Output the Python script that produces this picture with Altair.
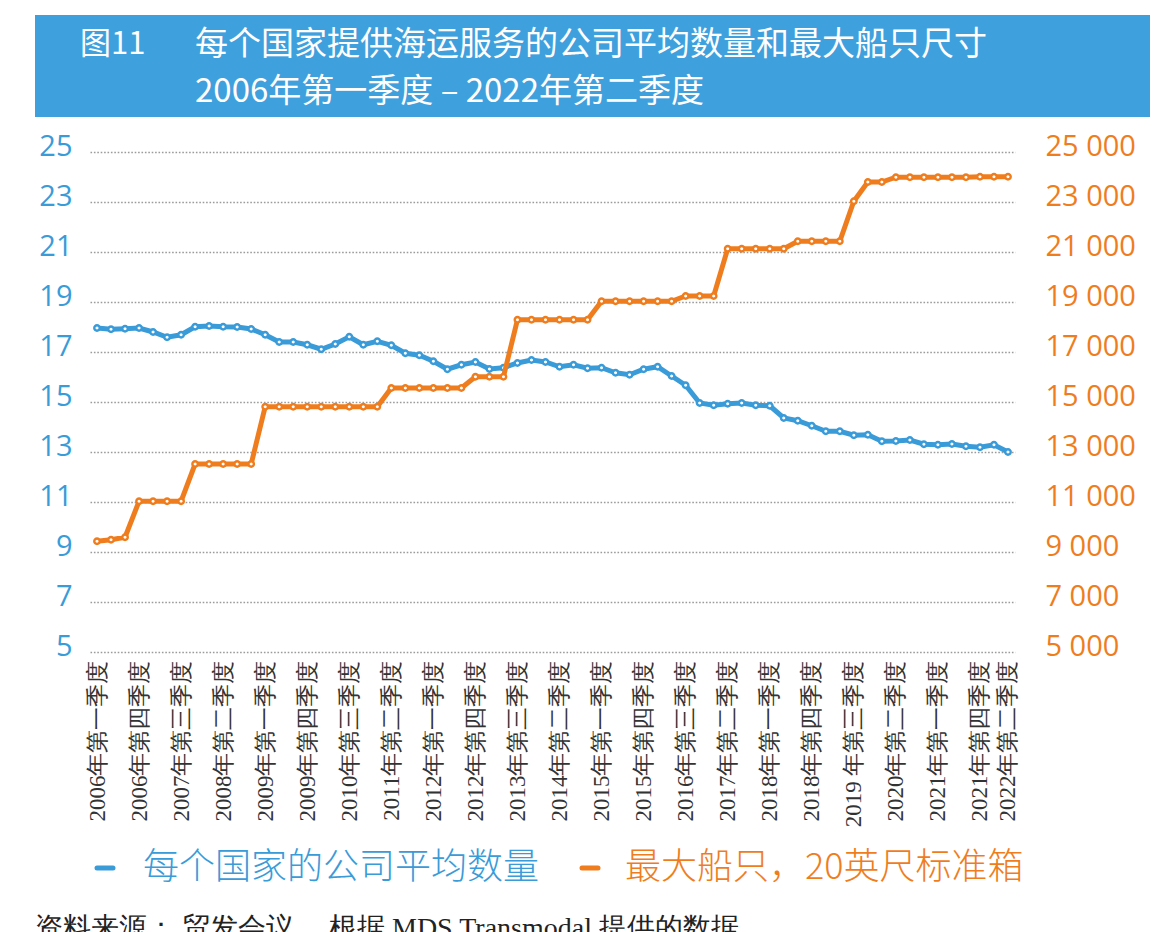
import altair as alt
import pandas as pd

BLUE = "#3a9bd9"
ORANGE = "#ef7d1e"
BANNER = "#3fa0de"

years = list(range(2006, 2023))
quarter_names = ["一", "二", "三", "四"]
quarters = []
for y in years:
    for qi, qn in enumerate(quarter_names):
        if y == 2022 and qi > 1:
            break
        sep = " " if (y == 2019 and qi == 2) else ""
        quarters.append(f"{y}{sep}年第{qn}季度")

avg_companies = [
    17.96, 17.91, 17.93, 17.96, 17.80, 17.59, 17.69, 18.01, 18.04, 18.01,
    18.00, 17.92, 17.69, 17.40, 17.40, 17.29, 17.11, 17.32, 17.61, 17.29,
    17.43, 17.27, 16.95, 16.87, 16.63, 16.31, 16.49, 16.60, 16.32, 16.37,
    16.56, 16.68, 16.60, 16.41, 16.49, 16.35, 16.37, 16.17, 16.09, 16.31,
    16.41, 16.04, 15.67, 14.96, 14.87, 14.93, 14.96, 14.87, 14.85, 14.36,
    14.25, 14.05, 13.83, 13.83, 13.67, 13.69, 13.43, 13.44, 13.48, 13.31,
    13.29, 13.32, 13.23, 13.19, 13.29, 13.00,
]

max_ship_teu = [
    9430, 9490, 9590, 11030, 11030, 11030, 11030, 12520, 12520, 12520,
    12520, 12520, 14810, 14810, 14810, 14810, 14810, 14810, 14810, 14810,
    14810, 15560, 15560, 15560, 15560, 15560, 15560, 16010, 16010, 16010,
    18290, 18290, 18290, 18290, 18290, 18290, 19030, 19030, 19030, 19030,
    19030, 19030, 19240, 19240, 19240, 21130, 21130, 21130, 21130, 21130,
    21430, 21430, 21430, 21430, 23030, 23800, 23800, 23990, 23990, 23990,
    23990, 23990, 23990, 24010, 24010, 24010,
]

left_ticks = list(range(5, 26, 2))
right_ticks = list(range(5000, 25001, 2000))
shown_quarters = quarters[::3] + [quarters[-1]]

title_tag = "图11"
title_line1 = "每个国家提供海运服务的公司平均数量和最大船只尺寸"
title_line2 = "2006年第一季度 – 2022年第二季度"
legend_blue = "每个国家的公司平均数量"
legend_orange = "最大船只，20英尺标准箱"
source_text = "资料来源： 贸发会议 ，根据 MDS Transmodal 提供的数据。"

df = pd.DataFrame({"quarter": quarters, "avg": avg_companies, "teu": max_ship_teu})
one = pd.DataFrame({"k": [0]})

x_enc = alt.X(
    "quarter:N",
    sort=quarters,
    scale=alt.Scale(type="point", padding=0.5),
    axis=alt.Axis(
        values=shown_quarters,
        labelAngle=-90,
        labelFont="Liberation Serif",
        labelFontSize=23,
        labelColor="#333333",
        labelPadding=8,
        labelLimit=400,
        ticks=False,
        domain=False,
        grid=False,
        title=None,
    ),
)

blue_line = alt.Chart(df).mark_line(
    color=BLUE,
    strokeWidth=5,
    point=alt.OverlayMarkDef(filled=True, fill="white", stroke=BLUE, strokeWidth=2.4, size=30),
).encode(
    x=x_enc,
    y=alt.Y(
        "avg:Q",
        scale=alt.Scale(domain=[5, 25], nice=False, zero=False),
        axis=alt.Axis(
            orient="left",
            values=left_ticks,
            labelFont="Open Sans",
            labelFontSize=29,
            labelColor=BLUE,
            labelPadding=18,
            labelBaseline="alphabetic",
            labelOffset=3,
            ticks=False,
            domain=False,
            grid=True,
            gridDash=[1.6, 1.8],
            gridColor="#9b9b9b",
            gridWidth=1.6,
            title=None,
        ),
    ),
)

orange_line = alt.Chart(df).mark_line(
    color=ORANGE,
    strokeWidth=5,
    point=alt.OverlayMarkDef(filled=True, fill="white", stroke=ORANGE, strokeWidth=2.4, size=30),
).encode(
    x=x_enc,
    y=alt.Y(
        "teu:Q",
        scale=alt.Scale(domain=[5000, 25000], nice=False, zero=False),
        axis=alt.Axis(
            orient="right",
            values=right_ticks,
            labelExpr="replace(format(datum.value, ','), ',', ' ')",
            labelFont="Open Sans",
            labelFontSize=29,
            labelColor=ORANGE,
            labelPadding=30,
            labelBaseline="alphabetic",
            labelOffset=3,
            ticks=False,
            domain=False,
            grid=False,
            title=None,
        ),
    ),
)

banner = alt.Chart(one).mark_rect(color=BANNER).encode(
    x=alt.value(-55), x2=alt.value(1060), y=alt.value(-137), y2=alt.value(-35)
)

t_tag = alt.Chart(one).mark_text(
    text=title_tag, align="left", baseline="middle", font="Noto Sans CJK SC",
    fontSize=31, color="white",
).encode(x=alt.value(-10), y=alt.value(-107))

t_line1 = alt.Chart(one).mark_text(
    text=title_line1, align="left", baseline="middle", font="Noto Sans CJK SC",
    fontSize=33, color="white",
).encode(x=alt.value(105), y=alt.value(-107))

t_line2 = alt.Chart(one).mark_text(
    text=title_line2, align="left", baseline="middle", font="Noto Sans CJK SC",
    fontSize=33, color="white",
).encode(x=alt.value(105), y=alt.value(-60))

leg_rule_blue = alt.Chart(one).mark_rule(color=BLUE, strokeWidth=5, strokeCap="round").encode(
    x=alt.value(7), x2=alt.value(23), y=alt.value(716)
)
leg_rule_orange = alt.Chart(one).mark_rule(color=ORANGE, strokeWidth=5, strokeCap="round").encode(
    x=alt.value(492), x2=alt.value(508), y=alt.value(716)
)
leg_text_blue = alt.Chart(one).mark_text(
    text=legend_blue, align="left", baseline="middle", font="Noto Sans CJK SC",
    fontSize=36, fontWeight=300, color=BLUE,
).encode(x=alt.value(53), y=alt.value(716))
leg_text_orange = alt.Chart(one).mark_text(
    text=legend_orange, align="left", baseline="middle", font="Noto Sans CJK SC",
    fontSize=36, fontWeight=300, color=ORANGE,
).encode(x=alt.value(535), y=alt.value(716))

source = alt.Chart(one).mark_text(
    text=source_text, align="left", baseline="top", font="Liberation Serif",
    fontSize=28, color="#222222",
).encode(x=alt.value(-55), y=alt.value(763))

chart = alt.layer(
    banner, t_tag, t_line1, t_line2,
    blue_line, orange_line,
    leg_rule_blue, leg_rule_orange, leg_text_blue, leg_text_orange, source,
).resolve_scale(y="independent").properties(
    width=925,
    height=500,
    autosize=alt.AutoSizeParams(type="none"),
    padding={"left": 90, "top": 152, "right": 149, "bottom": 280},
    background="white",
).configure_view(stroke=None)

chart.save("out.html", embed_options={"renderer": "svg", "actions": False})
